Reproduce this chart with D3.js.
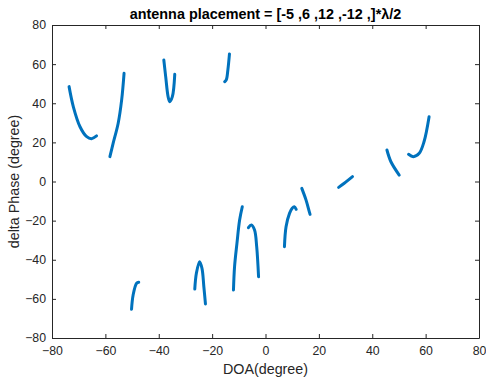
<!DOCTYPE html>
<html>
<head>
<meta charset="utf-8">
<script src="https://cdn.jsdelivr.net/npm/d3@7"></script>
<style>
  body { margin: 0; background: #fff; }
  svg { display: block; font-family: "Liberation Sans", Arial, sans-serif; }
</style>
</head>
<body>
<svg id="chart" width="486" height="378"></svg>
<script>
// Tick values for both axes
const xTicks = [-80, -60, -40, -20, 0, 20, 40, 60, 80];
const yTicks = [-80, -60, -40, -20, 0, 20, 40, 60, 80];

// Each branch of the phase-difference curve: [DOA (deg), delta phase (deg)]
const branch1 = [[-73.6, 48.5], [-72.0, 38.2], [-69.5, 28.0], [-67.0, 22.9], [-65.2, 21.9], [-63.3, 23.3]];
const branch2 = [[-53.0, 55.3], [-53.9, 41.7], [-55.2, 29.8], [-57.1, 19.5], [-58.3, 12.7]];
const branch3 = [[-38.1, 62.1], [-37.4, 53.6], [-36.5, 43.4], [-35.9, 40.8], [-34.9, 43.4], [-34.0, 54.8]];
const branch4 = [[-13.5, 65.2], [-14.1, 57.0], [-14.7, 51.9], [-15.3, 51.0]];
const branch5 = [[27.4, -3.0], [29.5, -0.9], [32.6, 2.5]];
const branch6 = [[45.5, 16.1], [47.0, 10.1], [50.1, 3.3]];
const branch7 = [[53.6, 13.9], [55.4, 12.7], [57.6, 14.4], [59.4, 20.3], [61.3, 33.1]];
const branch8 = [[-50.2, -65.3], [-49.6, -58.0], [-48.3, -52.0], [-47.5, -51.5]];
const branch9 = [[-26.5, -55.0], [-25.9, -46.9], [-24.7, -41.0], [-23.8, -44.4], [-23.1, -53.8], [-22.5, -62.6]];
const branch10 = [[-12.0, -55.5], [-11.6, -43.6], [-10.7, -31.6], [-9.7, -19.7], [-8.7, -12.9]];
const branch11 = [[-6.4, -23.6], [-5.3, -22.2], [-4.1, -24.8], [-3.3, -33.3], [-2.6, -48.7]];
const branch12 = [[7.1, -33.3], [7.7, -23.1], [9.0, -16.3], [10.0, -13.7], [10.8, -12.9], [11.5, -14.2]];
const branch13 = [[13.6, -3.5], [15.2, -9.5], [16.4, -15.4], [16.7, -16.8]];

const branches = [branch1, branch2, branch3, branch4, branch5, branch6, branch7,
                  branch8, branch9, branch10, branch11, branch12, branch13];

const svg = d3.select("#chart");
const margin = { left: 52, right: 7, top: 25, bottom: 40 };
const W = 486, H = 378;
const x0 = margin.left, x1 = W - margin.right;
const y0 = margin.top, y1 = H - margin.bottom;

const x = d3.scaleLinear().domain([-80, 80]).range([x0, x1]);
const y = d3.scaleLinear().domain([-80, 80]).range([y1, y0]);

const axisColor = "#262626";
const tickLen = 4;

// Curves
const line = d3.line().x(d => x(d[0])).y(d => y(d[1])).curve(d3.curveCatmullRom.alpha(0.5));
svg.append("g")
  .selectAll("path")
  .data(branches)
  .join("path")
  .attr("d", line)
  .attr("fill", "none")
  .attr("stroke", "#0072BD")
  .attr("stroke-width", 3)
  .attr("stroke-linecap", "round")
  .attr("stroke-linejoin", "round");

// Bottom and left axes with inward ticks
const gx = svg.append("g").attr("transform", `translate(0,${y1})`)
  .call(d3.axisBottom(x).tickValues(xTicks).tickSizeInner(-tickLen).tickSizeOuter(0).tickPadding(8.5));
const gy = svg.append("g").attr("transform", `translate(${x0},0)`)
  .call(d3.axisLeft(y).tickValues(yTicks).tickSizeInner(-tickLen).tickSizeOuter(0).tickPadding(6));
// Top and right mirrored ticks
const gt = svg.append("g").attr("transform", `translate(0,${y0})`)
  .call(d3.axisTop(x).tickValues(xTicks).tickSizeInner(-tickLen).tickSizeOuter(0).tickFormat(""));
const gr = svg.append("g").attr("transform", `translate(${x1},0)`)
  .call(d3.axisRight(y).tickValues(yTicks).tickSizeInner(-tickLen).tickSizeOuter(0).tickFormat(""));

[gx, gy, gt, gr].forEach(g => {
  g.select(".domain").attr("stroke", axisColor).attr("stroke-width", 1);
  g.selectAll(".tick line").attr("stroke", axisColor).attr("stroke-width", 1);
  g.selectAll(".tick text").attr("fill", axisColor)
    .attr("font-size", 12.3).attr("font-family", "Liberation Sans, Arial, sans-serif");
});

// Title and axis labels
svg.append("text")
  .attr("x", (x0 + x1) / 2).attr("y", 18.5)
  .attr("text-anchor", "middle")
  .attr("font-size", 14.4).attr("font-weight", "bold").attr("fill", "#000")
  .text("antenna placement = [-5 ,6 ,12 ,-12 ,]*λ/2");

svg.append("text")
  .attr("x", (x0 + x1) / 2).attr("y", 373.5)
  .attr("text-anchor", "middle")
  .attr("font-size", 14.3).attr("fill", axisColor)
  .text("DOA(degree)");

svg.append("text")
  .attr("transform", `translate(19,${(y0 + y1) / 2}) rotate(-90)`)
  .attr("text-anchor", "middle")
  .attr("font-size", 14.3).attr("fill", axisColor)
  .text("delta Phase (degree)");
</script>
</body>
</html>
